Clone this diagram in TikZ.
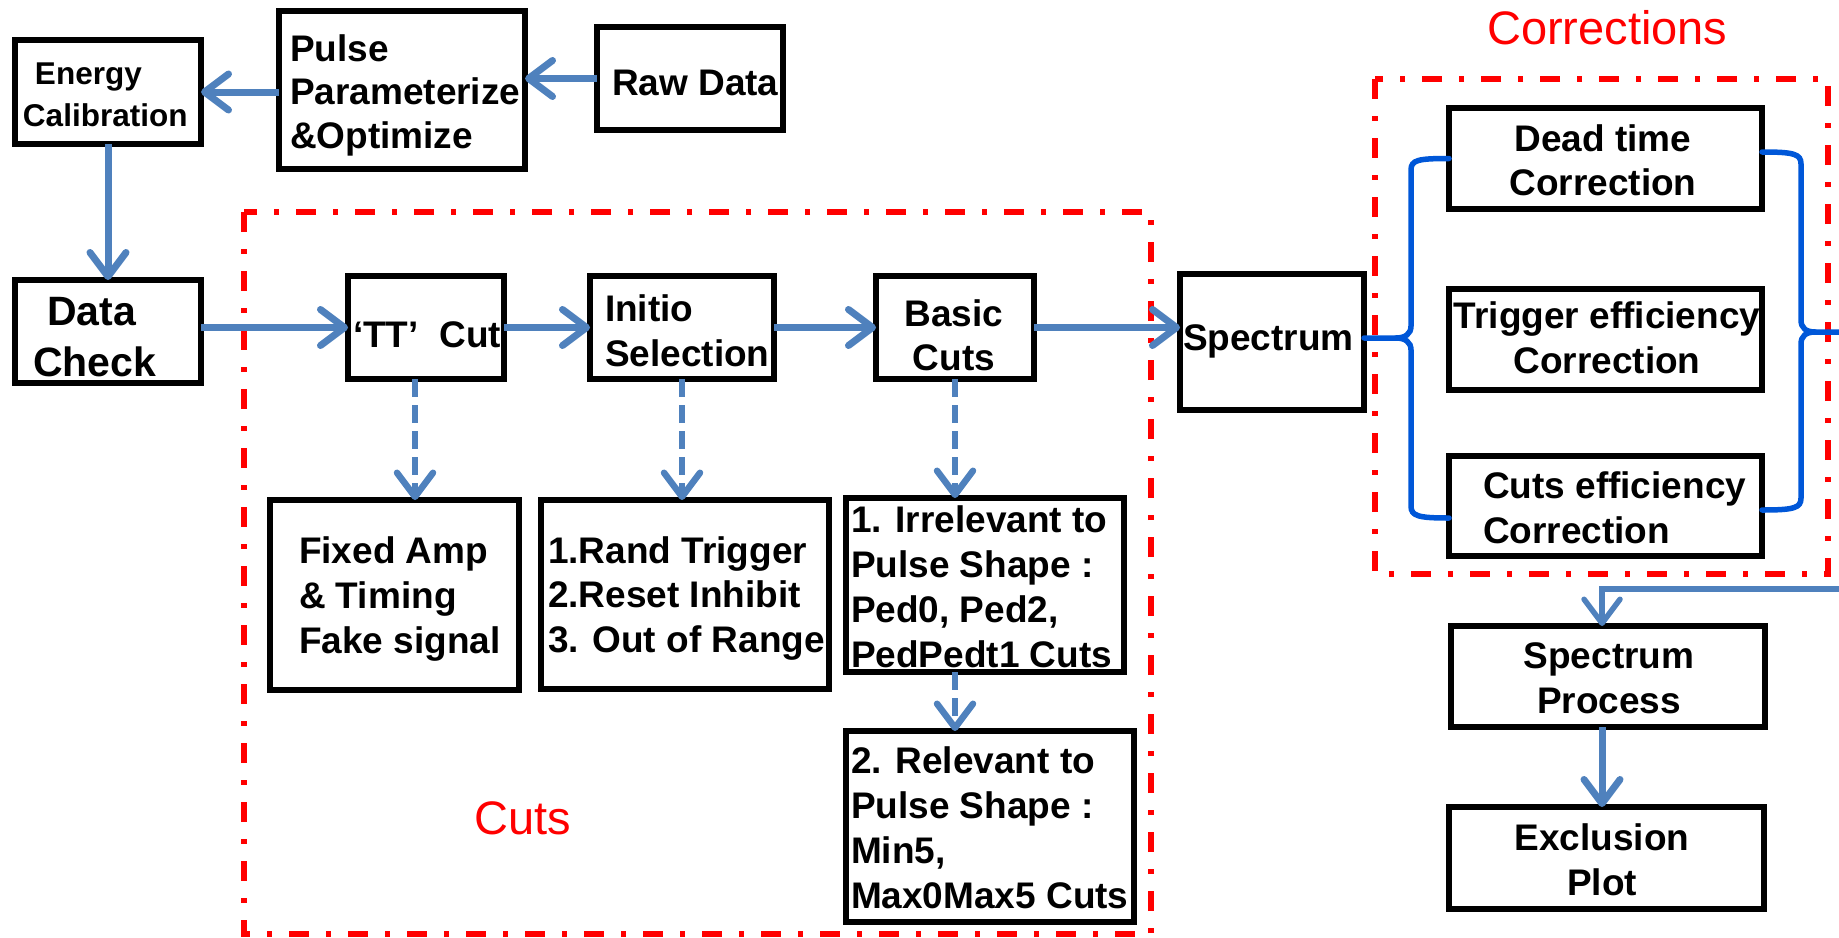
\documentclass[tikz,border=0pt]{standalone}
\usepackage{fontspec}
\setmainfont{Liberation Sans}
\usetikzlibrary{arrows.meta}
\definecolor{arr}{HTML}{4F81BD}
\definecolor{brc}{HTML}{0057D8}
\definecolor{rd}{HTML}{FF0000}
\newcommand{\mcl}[2]{\vtop{\baselineskip=#1\lineskiplimit=-100pt\lineskip=0pt\halign{\hfil##\hfil\cr#2\crcr}}}
\newcommand{\mll}[2]{\vtop{\baselineskip=#1\lineskiplimit=-100pt\lineskip=0pt\halign{##\hfil\cr#2\crcr}}}
\begin{document}
\begin{tikzpicture}[x=1pt,y=-1pt,
 box/.style={draw=black, line width=6pt, inner sep=0pt, outer sep=0pt},
 txt/.style={inner sep=0pt, outer sep=0pt, font=\bfseries\fontsize{37}{45}\selectfont},
 flow/.style={draw=arr, line width=7pt, -{Straight Barb[length=24pt,width=36pt,round]}},
 dflow/.style={flow, line width=6.5pt, dash pattern=on 18pt off 8pt},
 brace/.style={draw=brc, line width=5.5pt, line cap=round},
 region/.style={draw=rd, line width=6pt, dash pattern=on 20pt off 17pt on 5pt off 17pt},
 lab/.style={inner sep=0pt, text=rd, font=\fontsize{47}{56}\selectfont}]
\useasboundingbox (0,0) rectangle (1839,937);

% regions
\draw[region] (244,212) rectangle (1151,934);
\draw[region] (1375,79) rectangle (1828,574);

% boxes
\node[box, minimum width=186pt, minimum height=104pt] (energy) at (108,92) {};
\node[box, minimum width=246pt, minimum height=158pt] (pulse) at (402,90) {};
\node[box, minimum width=186pt, minimum height=103pt] (raw) at (690,78.5) {};
\node[box, minimum width=186pt, minimum height=103pt] (datacheck) at (108,331.5) {};
\node[box, minimum width=156pt, minimum height=103pt] (tt) at (426,327.5) {};
\node[box, minimum width=184pt, minimum height=103pt] (initio) at (682,327.5) {};
\node[box, minimum width=158pt, minimum height=103pt] (basic) at (955,327.5) {};
\node[box, minimum width=184pt, minimum height=136pt] (spectrum) at (1272,342) {};
\node[box, minimum width=249pt, minimum height=190pt] (fixed) at (394.5,595) {};
\node[box, minimum width=288pt, minimum height=189pt] (rand) at (685,594.5) {};
\node[box, minimum width=278pt, minimum height=174pt] (irr) at (985,585) {};
\node[box, minimum width=288pt, minimum height=191pt] (rel) at (990,826.5) {};
\node[box, minimum width=313pt, minimum height=101pt] (dead) at (1605.5,158.5) {};
\node[box, minimum width=313pt, minimum height=101pt] (trig) at (1605.5,339.5) {};
\node[box, minimum width=313pt, minimum height=100pt] (cutsE) at (1605.5,506) {};
\node[box, minimum width=314pt, minimum height=101pt] (sproc) at (1608,676.5) {};
\node[box, minimum width=315pt, minimum height=102pt] (excl) at (1606.5,858) {};

% texts
\node[txt, anchor=base west, font=\bfseries\fontsize{31.5}{42}\selectfont] (energyt) at (23,84) {\mll{42pt}{\hspace*{12pt}Energy\cr Calibration}};
\node[txt, anchor=base west] (pulset) at (290,61) {\mll{43.5pt}{Pulse\cr Parameterize\cr \&Optimize}};
\node[txt, anchor=base west] (rawt) at (612,95) {Raw Data};
\node[txt, anchor=base west, font=\bfseries\fontsize{41}{51}\selectfont] (datat) at (33,325) {\mll{51pt}{\hspace*{14pt}Data\cr Check}};
\node[txt, anchor=base west] (ttt) at (353,347) {‘TT’\ \ Cut};
\node[txt, anchor=base west] (initiot) at (605,321) {\mll{45pt}{Initio\cr Selection}};
\node[txt, anchor=base] (basict) at (954,326) {\mcl{44pt}{Basic\cr Cuts}};
\node[txt, anchor=base west] (spect) at (1183,350) {Spectrum};
\node[txt, anchor=base west] (fixedt) at (299,563) {\mll{45pt}{Fixed Amp\cr \& Timing\cr Fake signal}};
\node[txt, anchor=base west] (randt) at (548,563) {\mll{44.5pt}{1.Rand Trigger\cr 2.Reset Inhibit\cr 3. Out of Range}};
\node[txt, anchor=base west] (irrt) at (851,532) {\mll{45pt}{1. Irrelevant to\cr Pulse Shape :\cr Ped0, Ped2,\cr PedPedt1 Cuts}};
\node[txt, anchor=base west] (relt) at (851,773) {\mll{45pt}{2. Relevant to\cr Pulse Shape :\cr Min5,\cr Max0Max5 Cuts}};
\node[txt, anchor=base] (deadt) at (1603,151) {\mcl{44pt}{Dead time\cr Correction}};
\node[txt, anchor=base] (trigt) at (1607,328) {\mcl{45pt}{Trigger efficiency\cr Correction}};
\node[txt, anchor=base west] (cutset) at (1483,498) {\mll{45pt}{Cuts efficiency\cr Correction}};
\node[txt, anchor=base] (sproct) at (1609,668) {\mcl{45pt}{Spectrum\cr Process}};
\node[txt, anchor=base] (exclt) at (1602,850) {\mcl{45pt}{Exclusion\cr Plot}};
\node[lab, anchor=base west] (cutslab) at (474,834) {Cuts};
\node[lab, anchor=base west] (corrlab) at (1487,44) {Corrections};

% arrows
\draw[flow] (raw.west) -- (raw.west -| pulse.east);
\draw[flow] (pulse.west |- energy.east) -- (energy.east);
\draw[flow] (energy.south) -- (datacheck.north);
\draw[flow] (datacheck.east |- tt.west) -- (tt.west);
\draw[flow] (tt.east) -- (initio.west);
\draw[flow] (initio.east) -- (basic.west);
\draw[flow] (basic.east) -- (basic.east -| spectrum.west);
\draw[dflow] ([xshift=-11pt]tt.south) -- ([xshift=-11pt]tt.south |- fixed.north);
\draw[dflow] (initio.south) -- (initio.south |- rand.north);
\draw[dflow] (basic.south) -- (basic.south |- irr.north);
\draw[dflow] (basic.south |- irr.south) -- (basic.south |- rel.north);
\coordinate (rin) at (1839,589);
\draw[flow, line width=5.5pt] (rin) -- ([xshift=-6pt]sproc.north |- rin) -- ([xshift=-6pt]sproc.north);
\draw[flow] ([xshift=-6pt]sproc.south) -- ([xshift=-6pt]sproc.south |- excl.north);

% braces
\coordinate (rtip) at (1839,332);
\draw[brace] (dead.west) .. controls (1418,158.5) and (1411,160) .. (1411,170) -- (1411,326) .. controls (1411,334) and (1405,338) .. (1396,338) -- (spectrum.east |- 0,338);
\draw[brace] ([yshift=-12pt]cutsE.west) .. controls (1418,518) and (1411,516) .. (1411,506) -- (1411,350) .. controls (1411,342) and (1405,338) .. (1396,338);
\draw[brace] ([yshift=6.5pt]dead.east) .. controls (1794,152) and (1801,154) .. (1801,164) -- (1801,320) .. controls (1801,328) and (1806,332) .. (1815,332) -- (rtip);
\draw[brace] ([yshift=-4pt]cutsE.east) .. controls (1794,510) and (1801,508) .. (1801,498) -- (1801,344) .. controls (1801,336) and (1806,332) .. (1815,332);
\end{tikzpicture}
\end{document}
